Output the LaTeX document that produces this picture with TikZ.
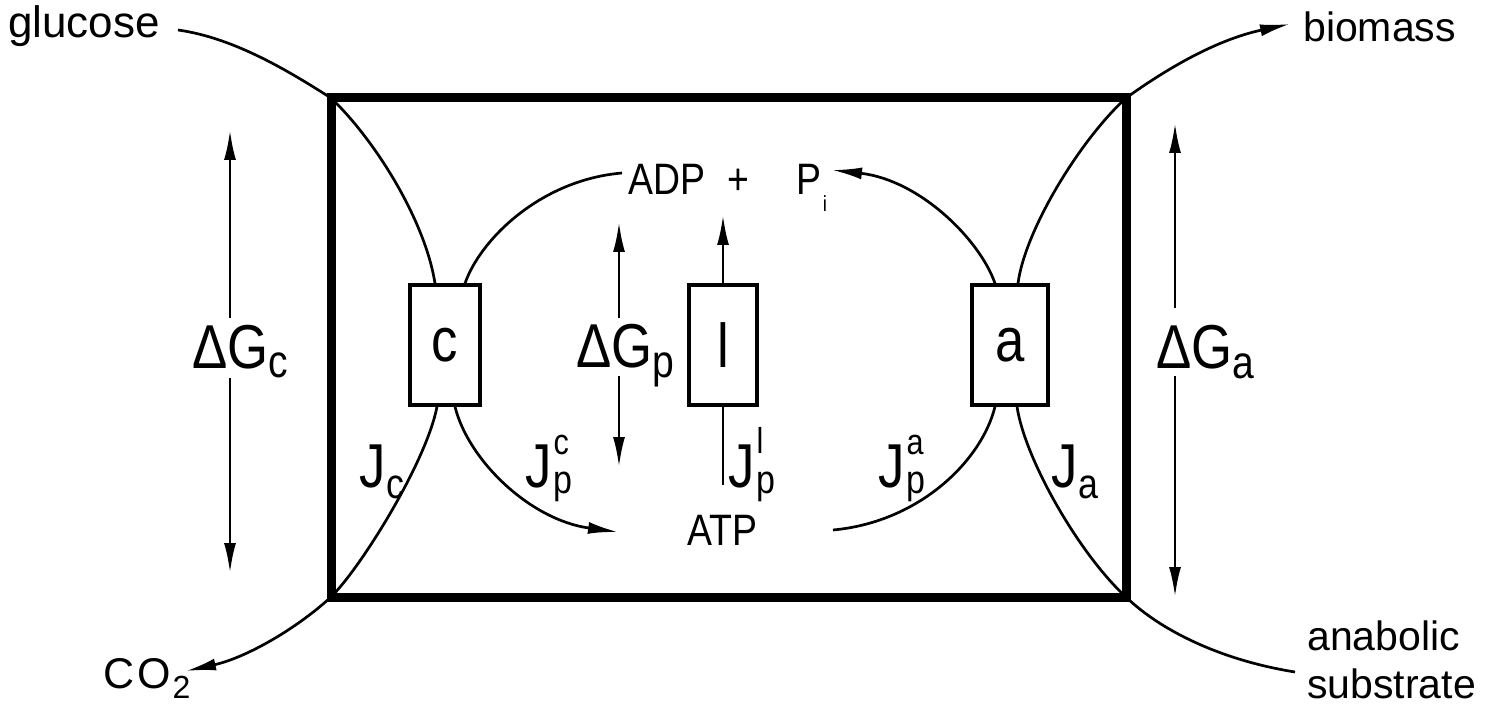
\documentclass[tikz,border=0pt]{standalone}
\usepackage{fontspec}
\setmainfont{Liberation Sans}
\newfontfamily\nar[FakeStretch=0.85]{Liberation Sans}
\usetikzlibrary{arrows.meta}
\newcommand\fs[1]{\fontsize{#1}{#1}\selectfont}
\newcommand\supsub[4]{\rlap{\raisebox{#3}{\fs{36}#1}}\raisebox{#4}{\fs{40}#2}}
\begin{document}
\begin{tikzpicture}[x=1pt,y=-1pt,
  thin/.style={line width=2.7pt},
  arr/.style={thin,-{Latex[length=30pt,width=12pt]}},
  frame/.style={line width=9pt,line join=miter},
  enz/.style={draw,line width=3.2pt,minimum width=#1,minimum height=120pt,inner sep=0pt,font=\nar\fs{62}},
  lbl/.style={inner sep=0pt,anchor=base west}]
\useasboundingbox (0,0) rectangle (1509,711);

% frame
\coordinate (TL) at (331,98);
\coordinate (TR) at (1126,98);
\coordinate (BR) at (1126,597);
\coordinate (BL) at (331,597);
\draw[frame] (TL) -- (TR) -- (BR) -- (BL) -- cycle;

% enzyme boxes
\node[enz=70pt] (c) at (445,345) {c};
\node[enz=68pt] (l) at (723,345) {l};
\node[enz=76pt] (a) at (1010,345) {a};

% outer texts
\node[lbl,font=\fs{44}] (glucose) at (8,38) {glucose};
\node[lbl,font=\fs{41}] (biomass) at (1303,42) {biomass};
\node[lbl,font=\fs{43}] (co2) at (103,688) {C\hspace{3pt}O\hspace{2pt}\raisebox{-10pt}{\fs{32}2}};
\node[lbl,font=\fs{41}] (anab) at (1307,650) {anabolic};
\node[lbl,font=\fs{41}] (subs) at (1307,698) {substrate};

% inner texts
\node[lbl,font=\nar\fs{44}] (adp) at (628,195) {ADP\hspace{22pt}+\hspace{48pt}P\hspace{1pt}\raisebox{-17pt}{\fs{22}i}};
\node[lbl,font=\nar\fs{44}] (atp) at (687,545) {ATP};

% Delta G labels
\node[lbl,font=\nar\fs{62}] (dGc) at (192,368) {ΔG\raisebox{-9pt}{\fs{46}c}};
\node[lbl,font=\nar\fs{62}] (dGp) at (576,367) {ΔG\raisebox{-10pt}{\fs{46}p}};
\node[lbl,font=\nar\fs{62}] (dGa) at (1156,368) {ΔG\raisebox{-10pt}{\fs{46}a}};

% flux labels
\node[lbl,font=\nar\fs{62}] (Jc) at (359,487) {J\hspace{1pt}\raisebox{-11pt}{\fs{42}c}};
\node[lbl,font=\nar\fs{62}] (Jpc) at (525,487) {J\hspace{2pt}\supsub{c}{p}{33pt}{-6pt}};
\node[lbl,font=\nar\fs{62}] (Jpl) at (728,487) {J\hspace{2pt}\supsub{l}{p}{34pt}{-6pt}};
\node[lbl,font=\nar\fs{62}] (Jpa) at (878,487) {J\hspace{2pt}\supsub{a}{p}{33pt}{-6pt}};
\node[lbl,font=\nar\fs{62}] (Ja) at (1051,487) {J\hspace{1pt}\raisebox{-11pt}{\fs{42}a}};

% free ends
\coordinate (gluS) at (178,30);
\coordinate (co2T) at (186,671);
\coordinate (bioT) at (1290,24);
\coordinate (subT) at (1295,672);
\coordinate (adpIn) at (622,173);
\coordinate (piIn) at (832,170);
\coordinate (atpL) at (618,532);
\coordinate (atpR) at (833,530);
\coordinate (lTop) at (723,215);
\coordinate (lBot) at (723,485);

% catabolic flux
\draw[thin] (gluS) .. controls (235,38) and (290,72) .. (TL)
  .. controls (375,140) and (425,220) .. ([xshift=-10pt]c.north);
\draw[arr] ([xshift=-8pt]c.south) .. controls (427,460) and (363,565) .. (BL)
  .. controls (295,630) and (245,658) .. (co2T);
\draw[thin] ([xshift=20pt]c.north) .. controls (480,240) and (540,180) .. (adpIn);
\draw[arr] ([xshift=10pt]c.south) .. controls (468,460) and (530,520) .. (atpL);

% leak
\draw[arr] (l.north) -- (lTop);
\draw[thin] (l.south) -- (lBot);

% anabolic flux
\draw[arr] ([xshift=-15pt]a.north) .. controls (980,240) and (920,180) .. (piIn);
\draw[thin] ([xshift=-15pt]a.south) .. controls (982,460) and (920,522) .. (atpR);
\draw[arr] ([xshift=8pt]a.north) .. controls (1025,230) and (1080,140) .. (TR)
  .. controls (1165,70) and (1215,40) .. (bioT);
\draw[thin] ([xshift=7pt]a.south) .. controls (1025,460) and (1080,555) .. (BR)
  .. controls (1160,630) and (1220,660) .. (subT);

% Delta G arrows
\coordinate (gc0) at (230,130); \coordinate (gc1) at (230,318);
\coordinate (gc2) at (230,378); \coordinate (gc3) at (230,573);
\draw[arr] (gc1) -- (gc0);
\draw[arr] (gc2) -- (gc3);
\coordinate (gp0) at (619,222); \coordinate (gp1) at (619,318);
\coordinate (gp2) at (619,376); \coordinate (gp3) at (619,467);
\draw[arr] (gp1) -- (gp0);
\draw[arr] (gp2) -- (gp3);
\coordinate (ga0) at (1175,123); \coordinate (ga1) at (1175,308);
\coordinate (ga2) at (1175,376); \coordinate (ga3) at (1175,597);
\draw[arr] (ga1) -- (ga0);
\draw[arr] (ga2) -- (ga3);
\end{tikzpicture}
\end{document}
